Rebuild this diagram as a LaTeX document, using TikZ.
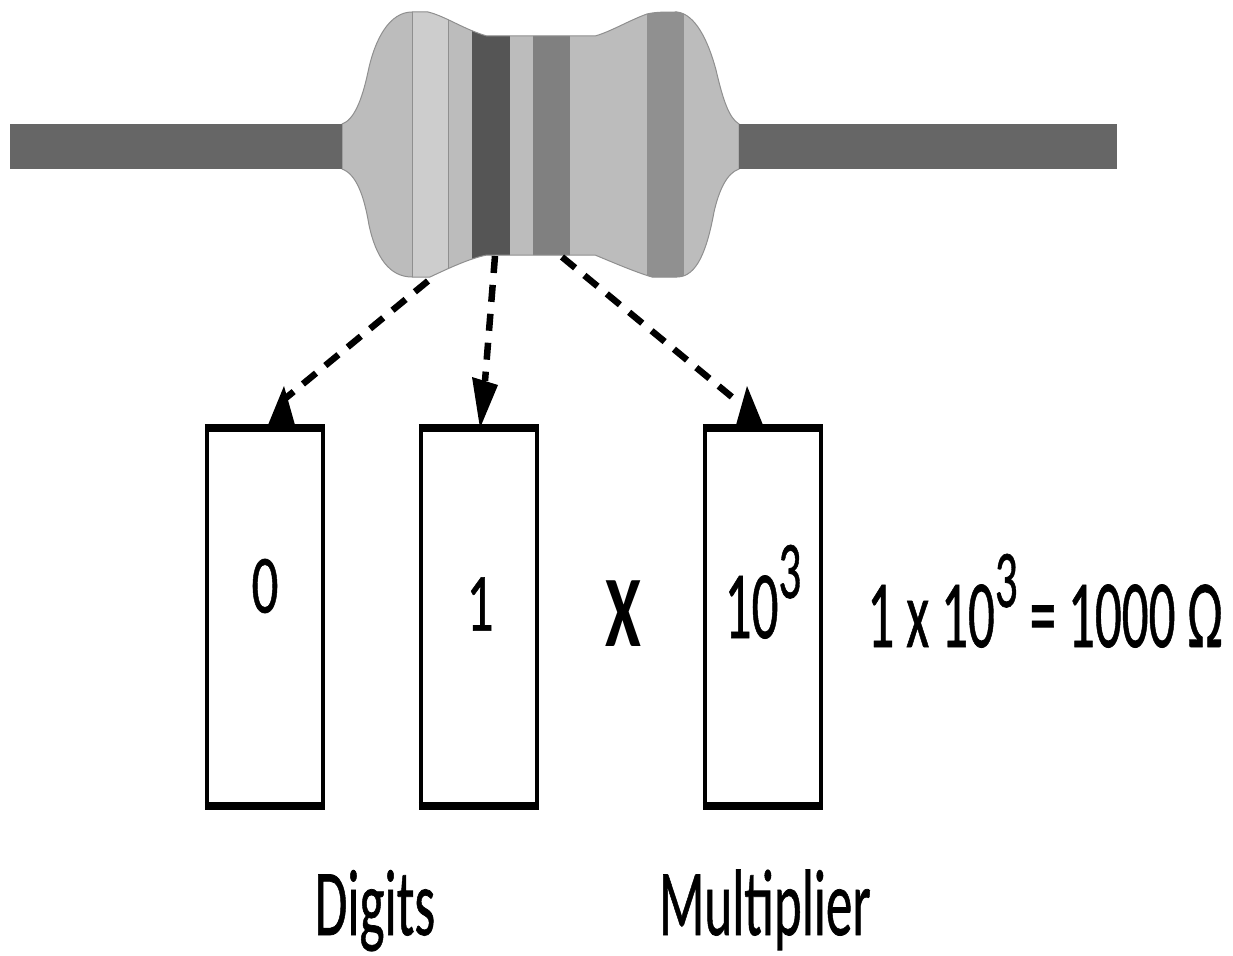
\documentclass[tikz,border=0pt]{standalone}
\usepackage{fontspec}
\setmainfont[FakeBold=0.8]{Carlito}
\newfontfamily\xfont[BoldFont={Carlito Bold}]{Carlito}
\newcommand{\stretched}[3][1.56]{\scalebox{1}[#1]{\fontsize{#2}{#2}\selectfont #3}}
\newcommand{\supthree}{\raisebox{0.415em}{\fontsize{45}{45}\selectfont 3}}
\tikzset{
  lead/.style={fill=leadgrey,draw=none},
  digitbox/.style={draw=black,line width=4.5pt,fill=white,minimum width=116pt,minimum height=378pt,inner sep=0pt,outer sep=0pt,anchor=north west},
  capline/.style={line width=8pt,black},
  dashconn/.style={line width=6.5pt,black,dash pattern=on 17pt off 12pt},
  tipfill/.style={fill=black,draw=none},
  txt/.style={inner sep=0pt,text=black},
  basetxt/.style={inner sep=0pt,text=black,anchor=base}
}
\definecolor{leadgrey}{HTML}{666666}
\definecolor{bodygrey}{HTML}{BCBCBC}
\definecolor{edgegrey}{HTML}{8F8F8F}
\definecolor{lightband}{HTML}{CDCDCD}
\definecolor{darkband}{HTML}{555555}
\definecolor{midband}{HTML}{808080}
\definecolor{tolband}{HTML}{909090}
\begin{document}
\begin{tikzpicture}[x=1pt,y=-1pt]
\useasboundingbox (0,0) rectangle (1233,955);
% leads
\fill[lead] (10,124) rectangle (343,169);
\fill[lead] (738,124) rectangle (1117,169);
% body
\def\bodypath{
 (342,124) .. controls (354,120) and (362,100) .. (368,72)
 .. controls (375,38) and (390,12) .. (412,12)
 -- (428,12) .. controls (445,16) and (465,30) .. (487,36)
 -- (595,36) .. controls (610,32) and (630,20) .. (647,14)
 .. controls (655,12) and (665,12) .. (677,12)
 .. controls (695,14) and (708,40) .. (716,70)
 .. controls (723,100) and (729,118) .. (739,124)
 -- (739,169) .. controls (727,173) and (719,190) .. (714,212)
 .. controls (707,250) and (697,277) .. (677,277)
 -- (652,277) .. controls (635,272) and (612,262) .. (595,255)
 -- (487,255) .. controls (470,258) and (445,270) .. (430,277)
 -- (412,277) .. controls (390,277) and (376,258) .. (369,225)
 .. controls (364,195) and (356,174) .. (342,169) -- cycle}
\fill[bodygrey] \bodypath;
\begin{scope}
\clip \bodypath;
\fill[lightband] (412,0) rectangle (448.5,300);
\fill[darkband] (472,0) rectangle (509.5,300);
\fill[midband] (532.5,0) rectangle (570,300);
\fill[tolband] (646.5,0) rectangle (683.5,300);
\draw[edgegrey,line width=1pt] (412,0) -- (412,300) (448.5,0) -- (448.5,300);
\end{scope}
\draw[edgegrey,line width=1pt] \bodypath;
\fill[lead] (10,124) rectangle (342,169);
\fill[lead] (739,124) rectangle (1117,169);
% boxes
\node[digitbox] (b1) at (207,428) {};
\node[digitbox] (b2) at (421,428) {};
\node[digitbox] (b3) at (705,428) {};
\foreach \b in {b1,b2,b3}{
  \draw[capline] ([xshift=-2.2pt]\b.north west) -- ([xshift=2.2pt]\b.north east);
  \draw[capline] ([xshift=-2.2pt]\b.south west) -- ([xshift=2.2pt]\b.south east);
}
% connectors
\coordinate (s1) at (428,281);
\coordinate (s2) at (495,256);
\coordinate (s3) at (562,257);
\coordinate (e1) at (281,402);
\coordinate (e2) at (485,381);
\coordinate (e3) at (738,402);
\draw[dashconn] (s1) -- (e1);
\draw[dashconn] (s2) -- (e2);
\draw[dashconn] (s3) -- (e3);
\fill[tipfill] (284,386) -- (268,425) -- (295,425) -- cycle;
\fill[tipfill] (472,377) -- (498,385) -- (480,428) -- cycle;
\fill[tipfill] (747,386) -- (736,425) -- (763,425) -- cycle;
% texts
\node[txt] (t0) at (265,586) {\stretched{53}{0}};
\node[txt] (t1) at (480,604) {\stretched{53}{1}};
\node[txt] (tx) at (623,614) {\stretched{65}{\xfont\bfseries X}};
\node[basetxt] (tm) at (763,638) {\stretched[1.82]{53}{10\supthree}};
\node[basetxt] (te) at (1045,647) {\stretched[1.82]{53}{1 x 10\supthree{} = 1000 Ω}};
\node[basetxt] (td) at (375,935) {\stretched[1.78]{53}{Digits}};
\node[basetxt] (tu) at (765,935) {\stretched[1.78]{53}{Multiplier}};
\end{tikzpicture}
\end{document}
